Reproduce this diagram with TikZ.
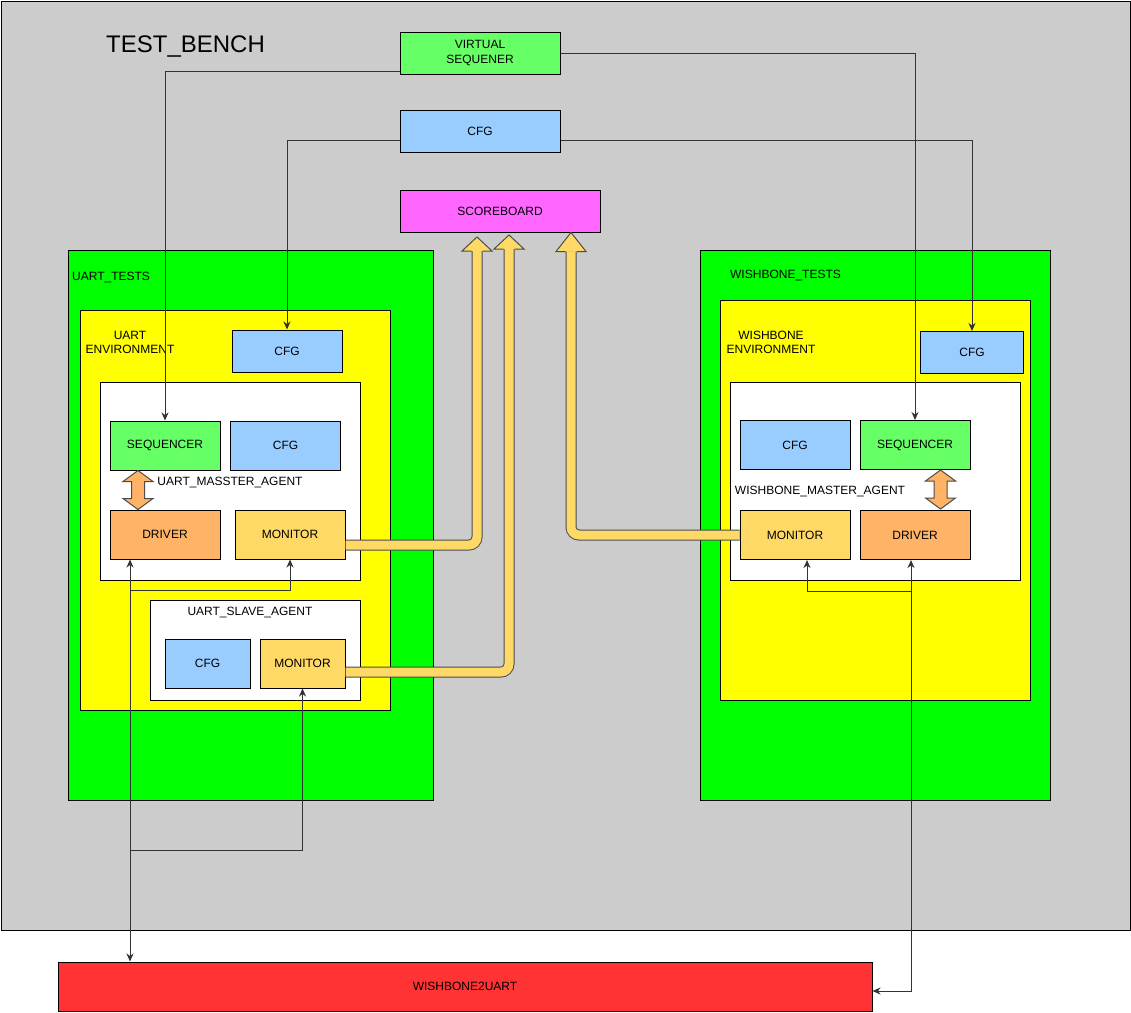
\documentclass[tikz,border=0pt]{standalone}
\usepackage{fontspec}
\setmainfont{Liberation Sans}
\usepackage{xcolor}
\usepackage{tikz}
\usetikzlibrary{positioning,calc,arrows.meta}

\definecolor{benchgray}{HTML}{CCCCCC}
\definecolor{testgreen}{HTML}{00FF00}
\definecolor{envyellow}{HTML}{FFFF00}
\definecolor{seqgreen}{HTML}{66FF66}
\definecolor{cfgblue}{HTML}{99CCFF}
\definecolor{scbpink}{HTML}{FF66FF}
\definecolor{drvorange}{HTML}{FFB366}
\definecolor{monyellow}{HTML}{FFD966}
\definecolor{dutred}{HTML}{FF3333}

\tikzset{
    >={Stealth[length=8pt,width=7pt,inset=2.5pt]},
    box/.style={draw=black, line width=1pt, inner sep=0pt, font=\fontsize{12}{14}\selectfont},
    unit/.style={box, minimum width=110pt, minimum height=49pt},
    txt/.style={inner sep=0pt, font=\fontsize{12}{14}\selectfont},
    lbl/.style={txt, text height=8.6pt, text depth=0pt},
    conn/.style={draw=black!80, line width=1pt, ->},
    biconn/.style={draw=black!80, line width=1pt, <->},
    fatarrow/.style={draw=black!70, line width=1pt, double=monyellow, double distance=9pt, rounded corners=8pt},
    fathead/.style={draw=black!70, line width=1pt, fill=monyellow, line join=miter},
    biarrow/.style={draw=black!70, line width=1pt, fill=drvorange, line join=miter}
}

\begin{document}
\begin{tikzpicture}[x=1pt,y=-1pt]
    \fill[white] (0,0) rectangle (1131,1012);
    \useasboundingbox (0,0) rectangle (1131,1012);
    % test bench
    \node[box, fill=benchgray, anchor=north west, minimum width=1129.5pt, minimum height=929.5pt] (tb) at (0.5,0.5) {};
    \node[anchor=base west, inner sep=0pt, font=\fontsize{24}{28}\selectfont] (tbl) at (106,52) {TEST\_BENCH};
    \node[box, fill=seqgreen, minimum width=160pt, minimum height=42pt, align=center, font=\fontsize{12}{14.5}\selectfont] (vs) at (480,53) {VIRTUAL\\SEQUENER};
    \node[box, fill=cfgblue, minimum width=160pt, minimum height=42pt] (tcfg) at (480,131) {CFG};
    \node[box, fill=scbpink, minimum width=200pt, minimum height=42pt] (scb) at (500,211) {SCOREBOARD};

    % UART side
    \node[box, fill=testgreen, minimum width=365pt, minimum height=550pt] (utests) at (250.5,525) {};
    \node[lbl, anchor=west] (utestsl) at (72,276) {UART\_TESTS};
    \node[box, fill=envyellow, minimum width=310pt, minimum height=400pt] (uenv) at (235,510) {};
    \node[txt, align=center] (uenvl) at (130,342) {UART\\ENVIRONMENT};
    \node[box, fill=cfgblue, minimum width=110pt, minimum height=42pt] (ucfg) at (287,351) {CFG};
    \node[box, fill=white, minimum width=260pt, minimum height=198pt] (umag) at (230,481) {};
    \node[unit, fill=seqgreen] (useq) at (165,445.5) {SEQUENCER};
    \node[unit, fill=cfgblue] (ucfg2) at (285.5,445.5) {CFG};
    \node[lbl] (umagl) at (230,481) {UART\_MASSTER\_AGENT};
    \node[unit, fill=drvorange] (udrv) at (165,534.5) {DRIVER};
    \node[unit, fill=monyellow] (umon) at (290,534.5) {MONITOR};
    \node[box, fill=white, minimum width=210pt, minimum height=100pt] (usag) at (255,650) {};
    \node[lbl] (usagl) at (250,611.5) {UART\_SLAVE\_AGENT};
    \node[box, fill=cfgblue, minimum width=85pt, minimum height=49pt] (uscfg) at (207.5,663.5) {CFG};
    \node[box, fill=monyellow, minimum width=85pt, minimum height=49pt] (usmon) at (302.5,663.5) {MONITOR};

    % WISHBONE side
    \node[box, fill=testgreen, minimum width=350pt, minimum height=550pt] (wtests) at (875,525) {};
    \node[lbl] (wtestsl) at (785.5,274.5) {WISHBONE\_TESTS};
    \node[box, fill=envyellow, minimum width=310pt, minimum height=400pt] (wenv) at (875,500) {};
    \node[txt, align=center] (wenvl) at (771,342) {WISHBONE\\ENVIRONMENT};
    \node[box, fill=cfgblue, minimum width=103pt, minimum height=42pt] (wcfg) at (972,352.5) {CFG};
    \node[box, fill=white, minimum width=290pt, minimum height=198pt] (wmag) at (875,481) {};
    \node[unit, fill=cfgblue] (wcfg2) at (795,445) {CFG};
    \node[unit, fill=seqgreen] (wseq) at (915,445) {SEQUENCER};
    \node[lbl] (wmagl) at (820,490) {WISHBONE\_MASTER\_AGENT};
    \node[unit, fill=monyellow] (wmon) at (795,535) {MONITOR};
    \node[unit, fill=drvorange] (wdrv) at (915,535) {DRIVER};

    % DUT
    \node[box, fill=dutred, minimum width=814pt, minimum height=49pt] (w2u) at (465,986.5) {WISHBONE2UART};

    % sequencer and cfg links
    \draw[conn] ([yshift=-18pt]vs.west) -| (useq.north);
    \draw[conn] (vs.east) -| (wseq.north);
    \draw[conn] ([yshift=-9pt]tcfg.west) -| (ucfg.north);
    \draw[conn] ([yshift=-9pt]tcfg.east) -| (wcfg.north);

    % interface links
    \coordinate (ul) at ([xshift=-35pt]udrv.south);
    \coordinate (uj1) at (130,590);
    \coordinate (uj2) at (130,850);
    \draw[biconn] (ul) -- (ul |- w2u.north);
    \draw[conn] (uj1) -| (umon.south);
    \draw[conn] (uj2) -| (usmon.south);
    \coordinate (wl) at ([xshift=-4pt]wdrv.south);
    \coordinate (wj) at (911,591);
    \draw[biconn] (wl) |- ([yshift=-4.5pt]w2u.east);
    \draw[conn] (wj) -| ([xshift=12pt]wmon.south);

    % monitors to scoreboard
    \coordinate (h1) at (477,251);
    \coordinate (h2) at (509,249);
    \coordinate (h3) at (571,251.5);
    \draw[fatarrow] ([yshift=-10.5pt]umon.east) -| (h1);
    \draw[fatarrow] ([yshift=-8.5pt]usmon.east) -| (h2);
    \draw[fatarrow] (wmon.west) -| (h3);
    \foreach \h/\len in {h1/14,h2/14,h3/19}
        \draw[fathead] ([xshift=-5.5pt]\h) -- ++(-9.5,0) -- ++(15,-\len) -- ++(15,\len) -- ++(-9.5,0);

    % sequencer <-> driver
    \coordinate (ua) at ([xshift=-27pt]useq.south);
    \coordinate (wa) at ([xshift=25.5pt]wseq.south);
    \foreach \a in {ua,wa}
        \draw[biarrow] (\a) -- ++(15,11) -- ++(-8.5,0) -- ++(0,17) -- ++(8.5,0) -- ++(-15,11) -- ++(-15,-11) -- ++(8.5,0) -- ++(0,-17) -- ++(-8.5,0) -- cycle;
\end{tikzpicture}
\end{document}
